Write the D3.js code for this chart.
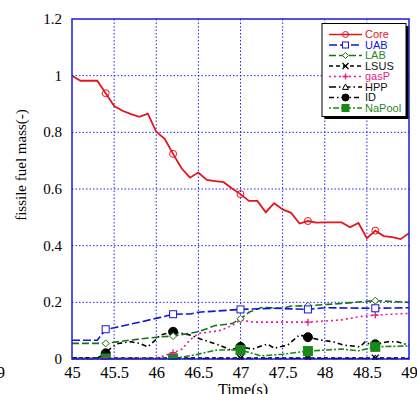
<!DOCTYPE html>
<html>
<head>
<meta charset="utf-8">
<script src="https://cdn.jsdelivr.net/npm/d3@7/dist/d3.min.js"></script>
<style>
  html, body { margin: 0; padding: 0; background: #fff; }
  svg { display: block; }
</style>
</head>
<body>
<svg id="chart" width="417" height="394"></svg>
<script>
// ---- data -------------------------------------------------------------
const xTicks = [45, 45.5, 46, 46.5, 47, 47.5, 48, 48.5, 49];
const yTicks = [0, 0.2, 0.4, 0.6, 0.8, 1, 1.2];
const markerTimes = [45.4, 46.2, 47.0, 47.8, 48.6];

const coreT = [45, 45.1, 45.2, 45.3, 45.4, 45.5, 45.6, 45.7, 45.8, 45.9,
               46, 46.1, 46.2, 46.3, 46.4, 46.5, 46.6, 46.7, 46.8, 46.9,
               47, 47.1, 47.2, 47.3, 47.4, 47.5, 47.6, 47.7, 47.8, 47.9,
               48, 48.1, 48.2, 48.3, 48.4, 48.5, 48.6, 48.7, 48.8, 48.9, 49];
const coreV = [1.0, 0.982, 0.982, 0.982, 0.938, 0.893, 0.876, 0.864, 0.855, 0.866,
               0.802, 0.777, 0.724, 0.673, 0.640, 0.658, 0.632, 0.628, 0.624, 0.602,
               0.582, 0.558, 0.558, 0.518, 0.550, 0.528, 0.516, 0.478, 0.487, 0.481,
               0.482, 0.482, 0.482, 0.465, 0.480, 0.426, 0.453, 0.434, 0.430, 0.423, 0.444];

const uabT = [45, 45.3, 45.4, 45.5, 45.8, 46.05, 46.2, 46.4, 46.5, 47.0, 47.4, 47.8, 48.0, 48.6, 49];
const uabV = [0.066, 0.066, 0.105, 0.11, 0.13, 0.147, 0.158, 0.159, 0.165, 0.175, 0.179, 0.175, 0.181, 0.179, 0.181];

const labT = [45, 45.4, 45.7, 46.0, 46.2, 46.5, 46.7, 46.9, 47.0, 47.1, 47.25, 47.5, 47.6, 47.8, 48.2, 48.6, 49];
const labV = [0.055, 0.055, 0.067, 0.077, 0.081, 0.096, 0.118, 0.125, 0.142, 0.165, 0.182, 0.179, 0.187, 0.188, 0.196, 0.206, 0.2];

const lsusT = [45, 45.4, 46.2, 47.0, 47.8, 48.6, 49];
const lsusV = [0.003, 0.003, 0.003, 0.003, 0.003, 0.003, 0.003];

const gasT = [45, 45.4, 46.0, 46.2, 46.3, 46.4, 46.5, 46.75, 46.9, 47.0, 47.15, 47.8, 48.2, 48.4, 48.6, 49];
const gasV = [0.0, 0.0, 0.003, 0.022, 0.034, 0.067, 0.09, 0.10, 0.118, 0.138, 0.13, 0.13, 0.138, 0.149, 0.155, 0.161];

const hppT = [45, 45.4, 46.2, 47.0, 47.8, 48.6, 49];
const hppV = [0.002, 0.002, 0.002, 0.002, 0.002, 0.002, 0.002];

const idT = [45, 45.3, 45.4, 45.46, 45.55, 45.7, 45.8, 45.9, 46.0, 46.05, 46.2, 46.4, 46.5, 46.75,
             46.88, 47.0, 47.14, 47.32, 47.4, 47.56, 47.7, 47.8, 47.95, 48.1, 48.22, 48.42,
             48.48, 48.55, 48.6, 48.75, 48.86, 49];
const idV = [0.003, 0.003, 0.02, 0.038, 0.055, 0.061, 0.055, 0.043, 0.07, 0.085, 0.096, 0.085, 0.073, 0.049,
             0.032, 0.043, 0.035, 0.053, 0.038, 0.049, 0.085, 0.077, 0.067, 0.061, 0.049, 0.043,
             0.061, 0.049, 0.052, 0.061, 0.061, 0.049];

const naT = [45, 45.4, 46.2, 46.45, 46.72, 47.0, 47.24, 47.5, 47.8, 48.2, 48.4, 48.6, 49];
const naV = [0.002, 0.002, 0.002, 0.014, 0.032, 0.032, 0.011, 0.017, 0.028, 0.035, 0.029, 0.043, 0.046];

const seriesNames = ["Core", "UAB", "LAB", "LSUS", "gasP", "HPP", "ID", "NaPool"];

// ---- series styling -----------------------------------------------------
const series = [
  { name: "Core",   t: coreT, v: coreV, color: "#e3161d", dash: null,        marker: "circle",   fill: false },
  { name: "UAB",    t: uabT,  v: uabV,  color: "#1515d8", dash: "8,3",       marker: "square",   fill: false },
  { name: "LAB",    t: labT,  v: labV,  color: "#1c6e1c", dash: "7,3",       marker: "diamond",  fill: false },
  { name: "LSUS",   t: lsusT, v: lsusV, color: "#000000", dash: "4,3",       marker: "cross",    fill: false },
  { name: "gasP",   t: gasT,  v: gasV,  color: "#f0198c", dash: "2,3",       marker: "plus",     fill: false },
  { name: "HPP",    t: hppT,  v: hppV,  color: "#000000", dash: "7,3,1.5,3", marker: "triangle", fill: false },
  { name: "ID",     t: idT,   v: idV,   color: "#000000", dash: "5,3,1.5,3", marker: "circle",   fill: true  },
  { name: "NaPool", t: naT,   v: naV,   color: "#178a17", dash: "2,2,6,2",   marker: "square",   fill: true  }
];

// ---- layout -------------------------------------------------------------
const svg = d3.select("#chart");
const plotLeft = 72, plotRight = 409, plotTop = 19, plotBottom = 359;

const x = d3.scaleLinear().domain([45, 49]).range([plotLeft, plotRight]);
const y = d3.scaleLinear().domain([0, 1.2]).range([plotBottom, plotTop]);

const serif = "'Liberation Serif', 'Times New Roman', serif";
const sans = "'Liberation Sans', Arial, sans-serif";

svg.append("defs").append("clipPath").attr("id", "plotClip")
  .append("rect").attr("x", plotLeft).attr("y", plotTop - 1)
  .attr("width", plotRight - plotLeft).attr("height", plotBottom - plotTop + 2);

// grid lines
const grid = svg.append("g");
grid.selectAll("line.gx").data(xTicks.slice(1, -1)).join("line")
  .attr("x1", d => x(d)).attr("x2", d => x(d))
  .attr("y1", plotTop).attr("y2", plotBottom)
  .attr("stroke", "#2323e6").attr("stroke-width", 1).attr("stroke-dasharray", "1.5,2");
grid.selectAll("line.gy").data(yTicks.slice(1, -1)).join("line")
  .attr("x1", plotLeft).attr("x2", plotRight)
  .attr("y1", d => y(d)).attr("y2", d => y(d))
  .attr("stroke", "#2323e6").attr("stroke-width", 1).attr("stroke-dasharray", "1.5,2");

// axes with tick labels
const xAxis = d3.axisBottom(x).tickValues(xTicks).tickSize(0).tickPadding(7)
  .tickFormat(d3.format("~g"));
const gx = svg.append("g").attr("transform", `translate(0,${plotBottom})`).call(xAxis);
gx.select(".domain").remove();
gx.selectAll("text").attr("font-family", serif).attr("font-size", 16.5).attr("fill", "#000");

const yAxis = d3.axisLeft(y).tickValues(yTicks).tickSize(0).tickPadding(10)
  .tickFormat(d3.format("~g"));
const gy = svg.append("g").attr("transform", `translate(${plotLeft},0)`).call(yAxis);
gy.select(".domain").remove();
gy.selectAll("text").attr("font-family", serif).attr("font-size", 15).attr("fill", "#000")
  .attr("dy", "0.3em");

// axis titles
svg.append("text")
  .attr("transform", `translate(26,165) rotate(-90)`)
  .attr("text-anchor", "middle")
  .attr("font-family", serif).attr("font-size", 15)
  .text("fissile fuel mass(-)");
svg.append("text")
  .attr("x", 243).attr("y", 395)
  .attr("text-anchor", "middle")
  .attr("font-family", serif).attr("font-size", 16)
  .text("Time(s)");
svg.append("text")
  .attr("x", 5).attr("y", 378)
  .attr("text-anchor", "end")
  .attr("font-family", serif).attr("font-size", 16.5)
  .text("49");

// ---- series lines & markers ----------------------------------------------
const plot = svg.append("g").attr("clip-path", "url(#plotClip)");
const line = d3.line().x(d => x(d[0])).y(d => y(d[1]));

function drawMarker(g, kind, cx, cy, color, filled, r) {
  const sw = 1;
  const fill = filled ? color : "#fff";
  if (kind === "circle") {
    g.append("circle").attr("cx", cx).attr("cy", cy).attr("r", r)
      .attr("fill", filled ? color : "none").attr("stroke", color).attr("stroke-width", sw);
  } else if (kind === "square") {
    g.append("rect").attr("x", cx - r).attr("y", cy - r).attr("width", 2 * r).attr("height", 2 * r)
      .attr("fill", fill).attr("stroke", color).attr("stroke-width", sw);
  } else if (kind === "diamond") {
    g.append("path").attr("d", `M${cx},${cy - r}L${cx + r},${cy}L${cx},${cy + r}L${cx - r},${cy}Z`)
      .attr("fill", fill).attr("stroke", color).attr("stroke-width", sw);
  } else if (kind === "triangle") {
    g.append("path").attr("d", `M${cx},${cy - r}L${cx + r},${cy + r * 0.8}L${cx - r},${cy + r * 0.8}Z`)
      .attr("fill", fill).attr("stroke", color).attr("stroke-width", sw);
  } else if (kind === "cross") {
    g.append("path").attr("d", `M${cx - r},${cy - r}L${cx + r},${cy + r}M${cx - r},${cy + r}L${cx + r},${cy - r}`)
      .attr("stroke", color).attr("stroke-width", 1.3);
  } else if (kind === "plus") {
    g.append("path").attr("d", `M${cx - r},${cy}L${cx + r},${cy}M${cx},${cy - r}L${cx},${cy + r}`)
      .attr("stroke", color).attr("stroke-width", 1.3);
  }
}

// draw bottom series first so Core sits on top
const drawOrder = ["HPP", "LSUS", "ID", "NaPool", "gasP", "LAB", "UAB", "Core"];
drawOrder.forEach(name => {
  const s = series.find(d => d.name === name);
  const pts = s.t.map((t, i) => [t, s.v[i]]);
  plot.append("path").datum(pts)
    .attr("d", line)
    .attr("fill", "none")
    .attr("stroke", s.color)
    .attr("stroke-width", name === "Core" ? 1.8 : 1.6)
    .attr("stroke-dasharray", s.dash);
  const mg = plot.append("g");
  markerTimes.forEach(mt => {
    const i = s.t.findIndex(t => Math.abs(t - mt) < 1e-6);
    if (i >= 0) drawMarker(mg, s.marker, x(s.t[i]), y(s.v[i]), s.color, s.fill, s.fill ? 4.5 : 3.5);
  });
});

// plot frame
svg.append("rect")
  .attr("x", plotLeft).attr("y", plotTop)
  .attr("width", plotRight - plotLeft).attr("height", plotBottom - plotTop)
  .attr("fill", "none").attr("stroke", "#1a1ae0").attr("stroke-width", 1.5);

// ---- legend ---------------------------------------------------------------
const lg = svg.append("g");
const lx = 322, ly = 23.5, lw = 84, lh = 93;
lg.append("rect").attr("x", lx + 2.5).attr("y", ly + 2.5).attr("width", lw).attr("height", lh).attr("fill", "#000");
lg.append("rect").attr("x", lx).attr("y", ly).attr("width", lw).attr("height", lh)
  .attr("fill", "#fff").attr("stroke", "#000").attr("stroke-width", 1);

seriesNames.forEach((name, i) => {
  const s = series.find(d => d.name === name);
  const yy = ly + 11 + i * 10.5;
  lg.append("line").attr("x1", lx + 7).attr("x2", lx + 40).attr("y1", yy).attr("y2", yy)
    .attr("stroke", s.color).attr("stroke-width", 1.6).attr("stroke-dasharray", s.dash);
  drawMarker(lg, s.marker, lx + 23.5, yy, s.color, s.fill, s.fill ? 3.5 : 3);
  lg.append("text").attr("x", lx + 43).attr("y", yy).attr("dy", "0.36em")
    .attr("font-family", sans).attr("font-size", 11)
    .attr("fill", s.name === "LAB" || s.name === "NaPool" ? "#1f8a1f" : (s.color === "#000000" ? "#111" : s.color))
    .text(name);
});
</script>
</body>
</html>
